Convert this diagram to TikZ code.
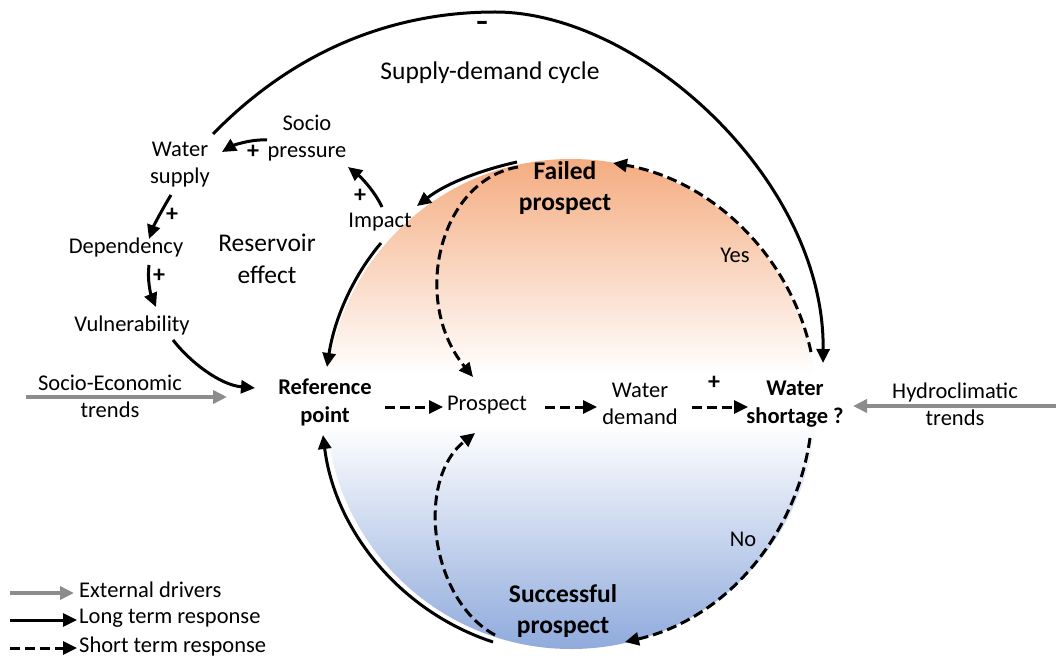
\documentclass[tikz,border=0pt]{standalone}
\usepackage{fontspec}
\setmainfont{Carlito}
\newfontfamily\signfont{DejaVu Sans}
\usetikzlibrary{arrows.meta,calc}
\definecolor{discorange}{RGB}{244,172,128}
\definecolor{discblue}{RGB}{143,170,220}
\definecolor{drivergray}{RGB}{140,140,140}
\pgfdeclareverticalshading{discshade}{100bp}{color(0bp)=(discblue); color(25bp)=(discblue); color(47.9bp)=(white); color(53bp)=(white); color(75bp)=(discorange); color(100bp)=(discorange)}
\begin{document}
\begin{tikzpicture}[x=1pt,y=-1pt,
  lbl/.style={font=\fontsize{22.5}{27}\selectfont, align=center, inner sep=0pt},
  lblb/.style={font=\fontsize{22.5}{28}\selectfont\bfseries, align=center, inner sep=0pt},
  biglbl/.style={font=\fontsize{25.5}{32}\selectfont, align=center, inner sep=0pt},
  bigb/.style={font=\fontsize{25.5}{31}\selectfont\bfseries, align=center, inner sep=0pt},
  sign/.style={font=\fontsize{24}{27}\selectfont\bfseries, inner sep=0pt},
  long/.style={line width=3pt, -{Triangle[length=14pt,width=13pt]}},
  short/.style={long, dash pattern=on 10pt off 5pt},
  ext/.style={line width=3.5pt, drivergray, -{Triangle[length=14pt,width=13pt]}},
]
\fill[white] (0,0) rectangle (1056,660);
\useasboundingbox (0,0) rectangle (1056,660);
\shade[shading=discshade] (571,404) circle[radius=245pt];

% nodes
\node[lbl] (ws) at (180,165) {Water\\supply};
\node[lbl] (sp) at (307,138) {Socio\\pressure};
\node[lbl] (dep) at (126,248) {Dependency};
\node[lbl] (vul) at (132,326) {Vulnerability};
\node[biglbl] (res) at (267,259) {Reservoir\\effect};
\node[lbl] (imp) at (380,222) {Impact};
\node[biglbl] (sdc) at (490,73) {Supply-demand cycle};
\node[font=\signfont\fontsize{24}{24}\selectfont\bfseries, inner sep=0pt] (minus) at (482,25) {–};
\node[bigb] (fp) at (565,188) {Failed\\prospect};
\node[lbl] (yes) at (735,255) {Yes};
\node[lblb] (ref) at (325,402) {Reference\\point};
\node[lbl] (pro) at (487,405) {Prospect};
\node[lbl] (wd) at (640,404) {Water\\demand};
\node[lblb] (wsh) at (795,404) {Water\\shortage ?};
\node[lbl] (hyd) at (955,404) {Hydroclimatic\\trends};
\node[lbl] (se) at (110,396) {Socio-Economic\\trends};
\node[lbl] (no) at (743,539) {No};
\node[bigb] (spr) at (563,611) {Successful\\prospect};

% polarity signs
\node[sign] (p1) at (253,152) {+};
\node[sign] (p2) at (172,215) {+};
\node[sign] (p3) at (159,276) {+};
\node[sign] (p4) at (360,196) {+};
\node[sign] (p5) at (714,383) {+};

% reservoir loop
\draw[long] ($(sp)+(-40,2)$) .. controls (250,139) and (232,146) .. ($(ws)+(42,-13)$);
\draw[long] ($(ws)+(-9,30)$) .. controls (163,208) and (154,225) .. ($(dep)+(23,-9)$);
\draw[long] ($(dep)+(23,17)$) .. controls (147,280) and (151,295) .. ($(vul)+(24,-19)$);
\draw[long] ($(imp)+(2,-15)$) .. controls (375,192) and (362,178) .. ($(sp)+(41,29)$);
\draw[long] ($(fp)+(-48,-26)$) .. controls (481.1,170.0) and (446.0,183.4) .. ($(imp)+(37,-16)$);
\draw[long] ($(imp)+(1,21)$) .. controls (351.2,278.2) and (333.9,321.4) .. ($(ref)+(2,-35)$);
\draw[long] ($(vul)+(41,14)$) .. controls (190,362) and (220,385) .. ($(ref)+(-70,-14)$);

% supply-demand cycle
\draw[long] ($(ws)+(33,-31)$) .. controls (300,45) and (400,12) .. (495,12)
  .. controls (640,12) and (825,180) .. ($(wsh)+(28,-41)$);

% short term
\draw[short] ($(ref)+(60,5)$) -- ($(pro)+(-44,2)$);
\draw[short] ($(pro)+(58,2)$) -- ($(wd)+(-43,3)$);
\draw[short] ($(wd)+(52,3)$) -- ($(wsh)+(-47,3)$);
\draw[short] ($(fp)+(-47,-21)$) .. controls (440,180) and (410,300) .. ($(pro)+(-14,-28)$);
\draw[short] ($(wsh)+(16,-52)$) .. controls (789.9,254.6) and (711.2,180.1) .. ($(fp)+(48,-25)$);
\draw[short] ($(wsh)+(15,34)$) .. controls (795.8,537.9) and (723.4,619.6) .. ($(spr)+(62,31)$);
\draw[short] ($(spr)+(-68,24)$) .. controls (430,600) and (415,480) .. ($(pro)+(-12,28)$);
\draw[long] ($(spr)+(-70,31)$) .. controls (401.0,611.9) and (335.0,531.1) .. ($(ref)+(-2,33)$);

% external drivers
\draw[ext] ($(se)+(-84,1)$) -- ($(ref)+(-98,-5)$);
\draw[ext] ($(hyd)+(104,2)$) -- ($(wsh)+(58,2)$);

% legend
\node[lbl, anchor=west] (l1) at (79,590) {External drivers};
\node[lbl, anchor=west] (l2) at (79,618) {Long term response};
\node[lbl, anchor=west] (l3) at (79,646) {Short term response};
\draw[ext] ($(l1.west)+(-69,3)$) -- ($(l1.west)+(-5,3)$);
\draw[long] ($(l2.west)+(-69,2)$) -- ($(l2.west)+(-2,2)$);
\draw[short] ($(l3.west)+(-69,2)$) -- ($(l3.west)+(-2,2)$);
\end{tikzpicture}
\end{document}
